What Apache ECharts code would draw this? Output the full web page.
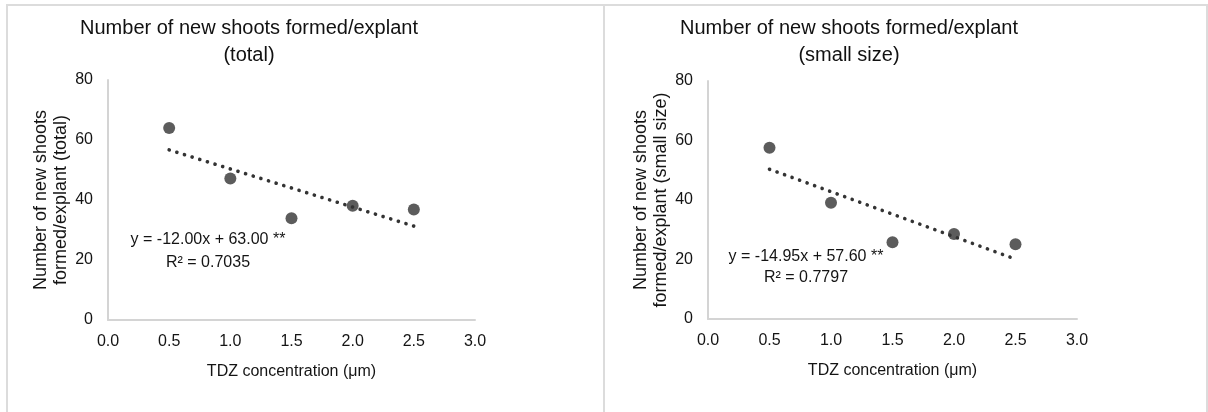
<!DOCTYPE html>
<html>
<head>
<meta charset="utf-8">
<script src="https://cdn.jsdelivr.net/npm/echarts@6/dist/echarts.min.js"></script>
<style>
html,body{margin:0;padding:0;background:#fff;}
#chart{width:1208px;height:412px;}
</style>
</head>
<body>
<div id="chart"></div>
<script>
// ---- data ----
var tdz = [0.5, 1.0, 1.5, 2.0, 2.5];
var shootsTotal = [64.0, 47.2, 33.9, 38.1, 36.8];
var shootsSmall = [57.6, 39.1, 25.8, 28.6, 25.1];
var xTicks = [0, 0.5, 1.0, 1.5, 2.0, 2.5, 3.0];
var yTicks = [0, 20, 40, 60, 80];
var titles = ['Number of new shoots formed/explant\n(total)', 'Number of new shoots formed/explant\n(small size)'];
var yNames = ['Number of new shoots\nformed/explant (total)', 'Number of new shoots\nformed/explant (small size)'];
var xName = 'TDZ concentration (\u03bcm)';
var equations = ['y = -12.00x + 63.00 **', 'y = -14.95x + 57.60 **'];
var r2Labels = ['R\u00b2 = 0.7035', 'R\u00b2 = 0.7797'];

function fit(xs, ys) {
  var n = xs.length, mx = 0, my = 0;
  for (var i = 0; i < n; i++) { mx += xs[i]; my += ys[i]; }
  mx /= n; my /= n;
  var sxy = 0, sxx = 0;
  for (var j = 0; j < n; j++) { sxy += (xs[j]-mx)*(ys[j]-my); sxx += (xs[j]-mx)*(xs[j]-mx); }
  var b = sxy / sxx, a = my - b * mx;
  var x0 = xs[0], x1 = xs[n-1];
  return [[x0, a + b*x0], [x1, a + b*x1]];
}
function pts(xs, ys) { return xs.map(function(x, i){ return [x, ys[i]]; }); }

var FONT = 'Liberation Sans, Arial, sans-serif';
var TXT = '#141414';
var AX = '#d4d4d4';

function xAxis(gi) {
  return {
    type: 'value', gridIndex: gi, min: 0, max: 3, interval: 0.5,
    axisLine: { show: true, lineStyle: { color: AX, width: 2 } },
    axisTick: { show: false }, splitLine: { show: false },
    axisLabel: { color: TXT, fontSize: 16, fontFamily: FONT, margin: 14,
      formatter: function(v){ return v.toFixed(1); } },
    name: xName, nameLocation: 'middle', nameGap: 44,
    nameTextStyle: { color: TXT, fontSize: 16, fontFamily: FONT }
  };
}
function yAxis(gi) {
  return {
    type: 'value', gridIndex: gi, min: 0, max: 80, interval: 20,
    axisLine: { show: true, lineStyle: { color: AX, width: 2 } },
    axisTick: { show: false }, splitLine: { show: false },
    axisLabel: { color: TXT, fontSize: 16, fontFamily: FONT, margin: 15 },
    name: yNames[gi], nameLocation: 'middle', nameGap: 34, nameRotate: 90,
    nameTextStyle: { color: TXT, fontSize: 18, fontFamily: FONT, lineHeight: 20, align: 'center' }
  };
}
function scatter(gi, ys) {
  return { type: 'scatter', xAxisIndex: gi, yAxisIndex: gi, data: pts(tdz, ys),
    symbolSize: 12, itemStyle: { color: '#333333' }, z: 3 };
}
function trend(gi, ys) {
  return { type: 'line', xAxisIndex: gi, yAxisIndex: gi, data: fit(tdz, ys),
    showSymbol: false, symbol: 'none', z: 2,
    lineStyle: { color: '#333333', width: 3.6, type: [0.1, 7.9], cap: 'round' } };
}

var chart = echarts.init(document.getElementById('chart'), null, { renderer: 'canvas' });
chart.setOption({
  animation: false,
  backgroundColor: '#ffffff',
  title: [
    { text: titles[0], left: 244, top: 10, textAlign: 'center',
      textStyle: { color: '#111111', fontSize: 20, fontWeight: 'normal', fontFamily: FONT, lineHeight: 27 } },
    { text: titles[1], left: 844, top: 10, textAlign: 'center',
      textStyle: { color: '#111111', fontSize: 20, fontWeight: 'normal', fontFamily: FONT, lineHeight: 27 } }
  ],
  grid: [
    { left: 108, top: 80, width: 367, height: 240 },
    { left: 708, top: 81, width: 369, height: 238 }
  ],
  xAxis: [xAxis(0), xAxis(1)],
  yAxis: [yAxis(0), yAxis(1)],
  series: [scatter(0, shootsTotal), trend(0, shootsTotal), scatter(1, shootsSmall), trend(1, shootsSmall)],
  graphic: [
    { type: 'rect', shape: { x: 7, y: 5, width: 597, height: 420 }, style: { fill: 'none', stroke: '#dcdcdc', lineWidth: 2 }, silent: true },
    { type: 'rect', shape: { x: 604, y: 5, width: 603, height: 420 }, style: { fill: 'none', stroke: '#dcdcdc', lineWidth: 2 }, silent: true },
    { type: 'text', x: 208, y: 240, style: { text: equations[0], fill: TXT, font: '16px ' + FONT, textAlign: 'center', textVerticalAlign: 'middle' } },
    { type: 'text', x: 208, y: 263, style: { text: r2Labels[0], fill: TXT, font: '16px ' + FONT, textAlign: 'center', textVerticalAlign: 'middle' } },
    { type: 'text', x: 806, y: 257, style: { text: equations[1], fill: TXT, font: '16px ' + FONT, textAlign: 'center', textVerticalAlign: 'middle' } },
    { type: 'text', x: 806, y: 278, style: { text: r2Labels[1], fill: TXT, font: '16px ' + FONT, textAlign: 'center', textVerticalAlign: 'middle' } }
  ]
});
</script>
</body>
</html>
